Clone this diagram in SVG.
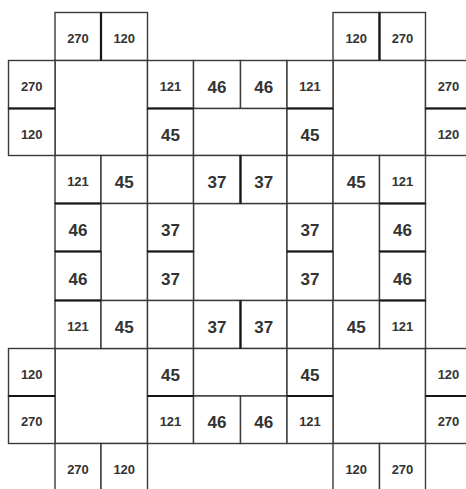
<svg xmlns="http://www.w3.org/2000/svg" width="466" height="489" viewBox="0 0 466 489">
<style>
rect{fill:#fff;stroke:#3a3a3a;stroke-width:1.4}
text{font-family:"Liberation Sans",Arial,sans-serif;font-weight:bold;fill:#333;text-anchor:middle}
.t3{font-size:13px}
.t2{font-size:17px}
#thick path{stroke:#151515;stroke-width:2.2;fill:none}
</style>
<rect x="0" y="0" width="466" height="489" style="stroke:none"/>
<g id="cells">
<g id="r0c1"><rect x="55" y="12.5" width="46" height="48"/><text class="t3" x="78" y="43">270</text></g>
<g id="r0c2"><rect x="101" y="12.5" width="46.5" height="48"/><text class="t3" x="124.25" y="43">120</text></g>
<g id="r0c7"><rect x="333" y="12.5" width="46.5" height="48"/><text class="t3" x="356.25" y="43">120</text></g>
<g id="r0c8"><rect x="379.5" y="12.5" width="46" height="48"/><text class="t3" x="402.5" y="43">270</text></g>

<g id="big-tl"><rect x="55" y="60.5" width="92.5" height="95"/></g>
<g id="big-tr"><rect x="333" y="60.5" width="92.5" height="95"/></g>
<g id="big-bl"><rect x="55" y="348.5" width="92.5" height="95"/></g>
<g id="big-br"><rect x="333" y="348.5" width="92.5" height="95"/></g>
<g id="big-c"><rect x="193.5" y="203.5" width="93.5" height="97"/></g>

<g id="r1c0"><rect x="8.5" y="60.5" width="46.5" height="48"/><text class="t3" x="31.75" y="91">270</text></g>
<g id="r1c3"><rect x="147.5" y="60.5" width="46" height="48"/><text class="t3" x="170.5" y="91">121</text></g>
<g id="r1c4"><rect x="193.5" y="60.5" width="47" height="48"/><text class="t2" x="217" y="93">46</text></g>
<g id="r1c5"><rect x="240.5" y="60.5" width="46.5" height="48"/><text class="t2" x="263.75" y="93">46</text></g>
<g id="r1c6"><rect x="287" y="60.5" width="46" height="48"/><text class="t3" x="310" y="91">121</text></g>
<g id="r1c9"><rect x="425.5" y="60.5" width="46" height="48"/><text class="t3" x="448.5" y="91">270</text></g>

<g id="r2c0"><rect x="8.5" y="108.5" width="46.5" height="47"/><text class="t3" x="31.75" y="138.5">120</text></g>
<g id="r2c3"><rect x="147.5" y="108.5" width="46" height="47"/><text class="t2" x="170.5" y="140.5">45</text></g>
<g id="r2c4"><rect x="193.5" y="108.5" width="93.5" height="47"/></g>
<g id="r2c6"><rect x="287" y="108.5" width="46" height="47"/><text class="t2" x="310" y="140.5">45</text></g>
<g id="r2c9"><rect x="425.5" y="108.5" width="46" height="47"/><text class="t3" x="448.5" y="138.5">120</text></g>

<g id="r3c1"><rect x="55" y="155.5" width="46" height="48"/><text class="t3" x="78" y="186">121</text></g>
<g id="r3c2"><rect x="101" y="155.5" width="46.5" height="48"/><text class="t2" x="124.25" y="188">45</text></g>
<g id="r3c3"><rect x="147.5" y="155.5" width="46" height="48"/></g>
<g id="r3c4"><rect x="193.5" y="155.5" width="47" height="48"/><text class="t2" x="217" y="188">37</text></g>
<g id="r3c5"><rect x="240.5" y="155.5" width="46.5" height="48"/><text class="t2" x="263.75" y="188">37</text></g>
<g id="r3c6"><rect x="287" y="155.5" width="46" height="48"/></g>
<g id="r3c7"><rect x="333" y="155.5" width="46.5" height="48"/><text class="t2" x="356.25" y="188">45</text></g>
<g id="r3c8"><rect x="379.5" y="155.5" width="46" height="48"/><text class="t3" x="402.5" y="186">121</text></g>

<g id="r4c1"><rect x="55" y="203.5" width="46" height="48"/><text class="t2" x="78" y="236">46</text></g>
<g id="r4c2"><rect x="101" y="203.5" width="46.5" height="97"/></g>
<g id="r4c3"><rect x="147.5" y="203.5" width="46" height="48"/><text class="t2" x="170.5" y="236">37</text></g>
<g id="r4c6"><rect x="287" y="203.5" width="46" height="48"/><text class="t2" x="310" y="236">37</text></g>
<g id="r4c7"><rect x="333" y="203.5" width="46.5" height="97"/></g>
<g id="r4c8"><rect x="379.5" y="203.5" width="46" height="48"/><text class="t2" x="402.5" y="236">46</text></g>

<g id="r5c1"><rect x="55" y="251.5" width="46" height="49"/><text class="t2" x="78" y="284.5">46</text></g>
<g id="r5c3"><rect x="147.5" y="251.5" width="46" height="49"/><text class="t2" x="170.5" y="284.5">37</text></g>
<g id="r5c6"><rect x="287" y="251.5" width="46" height="49"/><text class="t2" x="310" y="284.5">37</text></g>
<g id="r5c8"><rect x="379.5" y="251.5" width="46" height="49"/><text class="t2" x="402.5" y="284.5">46</text></g>

<g id="r6c1"><rect x="55" y="300.5" width="46" height="48"/><text class="t3" x="78" y="331">121</text></g>
<g id="r6c2"><rect x="101" y="300.5" width="46.5" height="48"/><text class="t2" x="124.25" y="333">45</text></g>
<g id="r6c3"><rect x="147.5" y="300.5" width="46" height="48"/></g>
<g id="r6c4"><rect x="193.5" y="300.5" width="47" height="48"/><text class="t2" x="217" y="333">37</text></g>
<g id="r6c5"><rect x="240.5" y="300.5" width="46.5" height="48"/><text class="t2" x="263.75" y="333">37</text></g>
<g id="r6c6"><rect x="287" y="300.5" width="46" height="48"/></g>
<g id="r6c7"><rect x="333" y="300.5" width="46.5" height="48"/><text class="t2" x="356.25" y="333">45</text></g>
<g id="r6c8"><rect x="379.5" y="300.5" width="46" height="48"/><text class="t3" x="402.5" y="331">121</text></g>

<g id="r7c0"><rect x="8.5" y="348.5" width="46.5" height="47.5"/><text class="t3" x="31.75" y="378.75">120</text></g>
<g id="r7c3"><rect x="147.5" y="348.5" width="46" height="47.5"/><text class="t2" x="170.5" y="380.75">45</text></g>
<g id="r7c4"><rect x="193.5" y="348.5" width="93.5" height="47.5"/></g>
<g id="r7c6"><rect x="287" y="348.5" width="46" height="47.5"/><text class="t2" x="310" y="380.75">45</text></g>
<g id="r7c9"><rect x="425.5" y="348.5" width="46" height="47.5"/><text class="t3" x="448.5" y="378.75">120</text></g>

<g id="r8c0"><rect x="8.5" y="396" width="46.5" height="47.5"/><text class="t3" x="31.75" y="426.25">270</text></g>
<g id="r8c3"><rect x="147.5" y="396" width="46" height="47.5"/><text class="t3" x="170.5" y="426.25">121</text></g>
<g id="r8c4"><rect x="193.5" y="396" width="47" height="47.5"/><text class="t2" x="217" y="428.25">46</text></g>
<g id="r8c5"><rect x="240.5" y="396" width="46.5" height="47.5"/><text class="t2" x="263.75" y="428.25">46</text></g>
<g id="r8c6"><rect x="287" y="396" width="46" height="47.5"/><text class="t3" x="310" y="426.25">121</text></g>
<g id="r8c9"><rect x="425.5" y="396" width="46" height="47.5"/><text class="t3" x="448.5" y="426.25">270</text></g>

<g id="r9c1"><rect x="55" y="443.5" width="46" height="48"/><text class="t3" x="78" y="473.75">270</text></g>
<g id="r9c2"><rect x="101" y="443.5" width="46.5" height="48"/><text class="t3" x="124.25" y="473.75">120</text></g>
<g id="r9c7"><rect x="333" y="443.5" width="46.5" height="48"/><text class="t3" x="356.25" y="473.75">120</text></g>
<g id="r9c8"><rect x="379.5" y="443.5" width="46" height="48"/><text class="t3" x="402.5" y="473.75">270</text></g>
</g>
<g id="thick">
<path d="M101 12.5V60.5M379.5 12.5V60.5"/>
<path d="M8.5 108.5H55M425.5 108.5H471.5M8.5 396H55M425.5 396H471.5"/>
<path d="M147.5 108.5H193.5M287 108.5H333M147.5 396H193.5M287 396H333"/>
<path d="M55 203.5H101M55 251.5H101M55 300.5H101M379.5 203.5H425.5M379.5 251.5H425.5M379.5 300.5H425.5"/>
<path d="M147.5 251.5H193.5M287 251.5H333"/>
<path d="M240.5 155.5V203.5M240.5 300.5V348.5"/>
</g>
</svg>
